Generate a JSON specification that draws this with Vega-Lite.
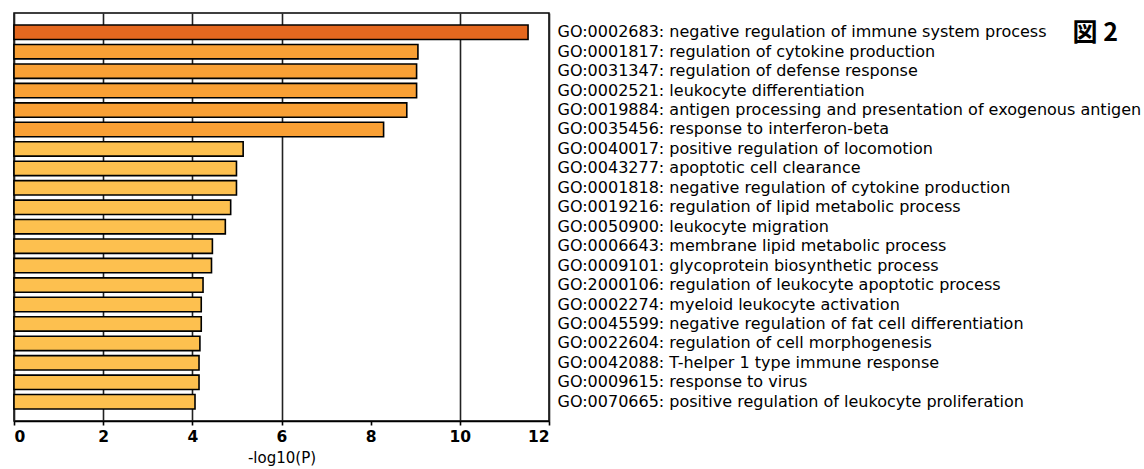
{
  "$schema": "https://vega.github.io/schema/vega-lite/v6.json",
  "width": 535,
  "height": 408,
  "padding": {"left": 13, "top": 13, "right": 2, "bottom": 2},
  "background": "white",
  "config": {
    "view": {"stroke": "black", "strokeWidth": 1.5},
    "font": "DejaVu Sans"
  },
  "data": {
    "values": [
      {"term": "GO:0002683: negative regulation of immune system process", "logp": 11.53},
      {"term": "GO:0001817: regulation of cytokine production", "logp": 9.06},
      {"term": "GO:0031347: regulation of defense response", "logp": 9.03},
      {"term": "GO:0002521: leukocyte differentiation", "logp": 9.03},
      {"term": "GO:0019884: antigen processing and presentation of exogenous antigen", "logp": 8.81},
      {"term": "GO:0035456: response to interferon-beta", "logp": 8.29},
      {"term": "GO:0040017: positive regulation of locomotion", "logp": 5.14},
      {"term": "GO:0043277: apoptotic cell clearance", "logp": 4.99},
      {"term": "GO:0001818: negative regulation of cytokine production", "logp": 4.99},
      {"term": "GO:0019216: regulation of lipid metabolic process", "logp": 4.86},
      {"term": "GO:0050900: leukocyte migration", "logp": 4.74},
      {"term": "GO:0006643: membrane lipid metabolic process", "logp": 4.45},
      {"term": "GO:0009101: glycoprotein biosynthetic process", "logp": 4.43},
      {"term": "GO:2000106: regulation of leukocyte apoptotic process", "logp": 4.24},
      {"term": "GO:0002274: myeloid leukocyte activation", "logp": 4.2},
      {"term": "GO:0045599: negative regulation of fat cell differentiation", "logp": 4.2},
      {"term": "GO:0022604: regulation of cell morphogenesis", "logp": 4.17},
      {"term": "GO:0042088: T-helper 1 type immune response", "logp": 4.15},
      {"term": "GO:0009615: response to virus", "logp": 4.15},
      {"term": "GO:0070665: positive regulation of leukocyte proliferation", "logp": 4.06}
    ]
  },
  "mark": {"type": "bar", "stroke": "black", "strokeWidth": 1.6},
  "encoding": {
    "y": {
      "field": "term", "type": "nominal", "sort": null,
      "scale": {"paddingInner": 0.26, "paddingOuter": 0.62},
      "axis": {"orient": "right", "title": "図 2", "titleAngle": 0, "titleX": 523, "titleY": 19, "titleAlign": "left", "titleBaseline": "middle", "titleFont": "Noto Sans CJK JP", "titleFontSize": 25, "titleFontWeight": "bold", "titleColor": "black", "ticks": false, "domain": false, "labelPadding": 8, "labelFontSize": 16, "labelColor": "black", "labelLimit": 700, "labelFont": "DejaVu Sans"}
    },
    "x": {
      "field": "logp", "type": "quantitative",
      "scale": {"domain": [0, 12], "nice": false},
      "axis": {"title": "-log10(P)", "values": [0, 2, 4, 6, 8, 10, 12], "grid": true, "gridColor": "#222", "gridWidth": 1.6, "gridOpacity": {"condition": {"test": "datum.value === 8", "value": 0}, "value": 1}, "domainColor": "black", "domainWidth": 1.6, "tickColor": "black", "tickWidth": 1.6, "tickSize": 4, "labelFontSize": 15.5, "labelFontWeight": "bold", "labelColor": "black", "labelPadding": 4, "titleFontSize": 15, "titleFontWeight": "normal", "titleColor": "black", "titlePadding": 6}
    },
    "color": {
      "field": "logp", "type": "quantitative",
      "scale": {"type": "threshold", "domain": [6, 10], "range": ["#FDC04F", "#F9A035", "#E4681F"]},
      "legend": null
    }
  }
}
